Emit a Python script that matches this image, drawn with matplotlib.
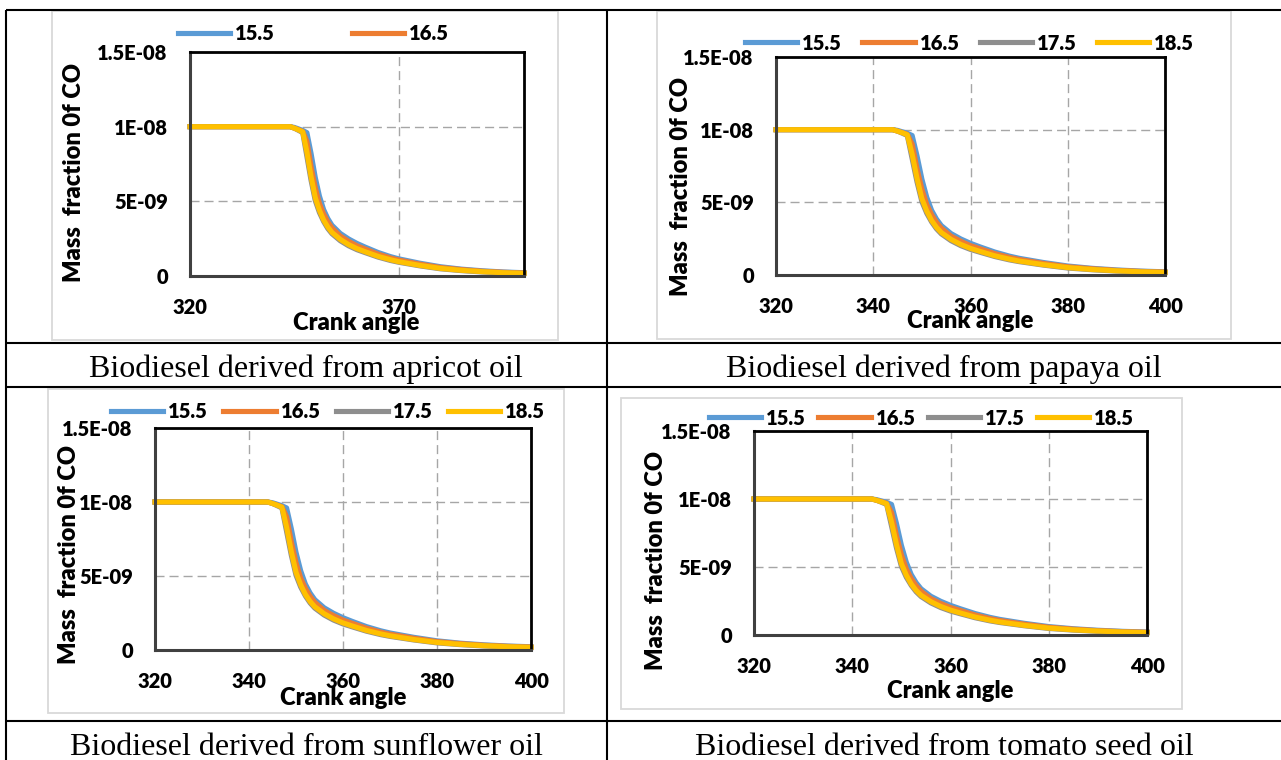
import matplotlib
matplotlib.use('Agg')
import matplotlib.pyplot as plt
from matplotlib.patches import Rectangle

# Mass fraction of CO against crank angle, four compression ratios,
# biodiesel from four oils (values in units of 1e-9)
crank_angle = [320, 330, 340, 344, 345, 346, 347, 348, 349, 350, 351, 352, 353, 354,
               356, 358, 360, 362, 365, 368, 370, 375, 380, 385, 390, 395, 400]
co_155 = [10.0, 10.0, 10.0, 10.0, 9.95, 9.85, 9.75, 9.6, 8.2, 6.6, 5.35, 4.45, 3.85, 3.4,
          2.85, 2.48, 2.18, 1.93, 1.58, 1.30, 1.15, 0.86, 0.62, 0.46, 0.35, 0.27, 0.22]
co_165 = [10.0, 10.0, 10.0, 10.0, 9.9, 9.8, 9.68, 9.0, 7.3, 5.9, 4.85, 4.15, 3.62, 3.22,
          2.67, 2.32, 2.02, 1.80, 1.47, 1.21, 1.07, 0.80, 0.57, 0.43, 0.32, 0.25, 0.20]
co_175 = [10.0, 10.0, 10.0, 10.0, 9.9, 9.75, 9.6, 8.0, 6.4, 5.05, 4.25, 3.65, 3.18, 2.83,
          2.36, 2.02, 1.76, 1.56, 1.27, 1.04, 0.92, 0.68, 0.48, 0.36, 0.27, 0.21, 0.16]
co_185 = [10.0, 10.0, 10.0, 10.0, 9.9, 9.78, 9.65, 8.3, 6.65, 5.25, 4.4, 3.75, 3.28, 2.92,
          2.45, 2.10, 1.83, 1.62, 1.32, 1.09, 0.96, 0.71, 0.51, 0.38, 0.29, 0.22, 0.18]

series_labels = ['15.5', '16.5', '17.5', '18.5']
series_values = [co_155, co_165, co_175, co_185]
series_colors = ['#5B9BD5', '#ED7D31', '#8E8E8E', '#FFC000']

captions = ['Biodiesel derived from apricot oil', 'Biodiesel derived from papaya oil',
            'Biodiesel derived from sunflower oil', 'Biodiesel derived from tomato seed oil']
y_ticks = [0, 5e-9, 1e-8, 1.5e-8]
y_tick_labels = ['0', '5E-09', '1E-08', '1.5E-08']
x_ticks_coarse = [320, 370]
x_ticks_fine = [320, 340, 360, 380, 400]

W, H = 1281, 760


def rect(l, t, r, b):
    # pixel box (top-left origin) -> figure fraction
    return [l / W, 1 - b / H, (r - l) / W, (b - t) / H]


def fxy(x, y):
    return (x / W, 1 - y / H)


# layout of each chart in pixels
panels = [
    dict(frame=(52, 11, 558, 340), axes=(190, 52, 524, 276), xticks=x_ticks_coarse,
         n_leg=2, leg=(178, 34), colsp=3.8, xlab=(356, 323), ylab=(74, 172)),
    dict(frame=(657, 11, 1231, 339), axes=(776, 57, 1165, 275), xticks=x_ticks_fine,
         n_leg=4, leg=(745, 43), colsp=1.0, xlab=(970, 321), ylab=(681, 187)),
    dict(frame=(48, 389, 564, 713), axes=(155, 428, 531, 650), xticks=x_ticks_fine,
         n_leg=4, leg=(111, 412), colsp=0.75, xlab=(343, 698), ylab=(69, 554)),
    dict(frame=(621, 398, 1182, 709), axes=(754, 431, 1147, 635), xticks=x_ticks_fine,
         n_leg=4, leg=(709, 418), colsp=0.6, xlab=(950, 691), ylab=(656, 561)),
]
caption_pos = [(306, 377), (944, 377), (306, 755), (944, 755)]

plt.rcParams['font.family'] = ['Lato', 'DejaVu Sans']

fig = plt.figure(figsize=(W / 100, H / 100), dpi=100)
fig.patch.set_facecolor('white')

# background: table grid, chart frames and captions
bg = fig.add_axes([0, 0, 1, 1], zorder=0)
bg.set_xlim(0, W)
bg.set_ylim(H, 0)
bg.axis('off')
table_kw = dict(color='black', lw=1.5, solid_capstyle='butt')
for y in [10, 343, 387, 721]:
    bg.plot([6, W], [y, y], **table_kw)
for x in [6, 607]:
    bg.plot([x, x], [10, H], **table_kw)

for p, cap, cpos in zip(panels, captions, caption_pos):
    l, t, r, b = p['frame']
    bg.add_patch(Rectangle((l, t), r - l, b - t, fill=False, ec='#D9D9D9', lw=1.3))
    bg.text(cpos[0], cpos[1], cap, family='Liberation Serif', fontsize=23,
            ha='center', va='baseline')

tick_font = dict(fontsize=14.5, fontweight='heavy')
label_font = dict(fontsize=17, fontweight='heavy')
legend_prop = {'family': ['Lato', 'DejaVu Sans'], 'weight': 'heavy', 'size': 14.5}

for p in panels:
    ax = fig.add_axes(rect(*p['axes']), zorder=1)
    ax.set_facecolor('white')
    handles = []
    for vals, lab, col in zip(series_values, series_labels, series_colors):
        line, = ax.plot(crank_angle, [v * 1e-9 for v in vals], color=col, lw=3.7,
                        label=lab, clip_on=False, solid_joinstyle='round')
        handles.append(line)

    ax.set_xlim(320, 400)
    ax.set_ylim(0, 1.5e-8)
    ax.set_xticks(p['xticks'])
    ax.set_xticklabels([str(v) for v in p['xticks']], **tick_font)
    ax.set_yticks(y_ticks)
    ax.set_yticklabels(y_tick_labels, **tick_font)
    ax.tick_params(length=0)
    ax.tick_params(axis='y', pad=16)
    ax.tick_params(axis='x', pad=16)

    ax.set_axisbelow(True)
    ax.grid(True, color='#A6A6A6', lw=1.0, linestyle=(0, (6.5, 3.6)))
    for side in ['top', 'right']:
        ax.spines[side].set_color('black')
        ax.spines[side].set_linewidth(2.0)
    for side in ['left', 'bottom']:
        ax.spines[side].set_color('#404040')
        ax.spines[side].set_linewidth(2.2)

    ax.set_xlabel('Crank angle', **label_font)
    ax.xaxis.label.set_verticalalignment('center')
    ax.xaxis.set_label_coords(*fxy(*p['xlab']), transform=fig.transFigure)
    ax.set_ylabel('Mass  fraction 0f CO', **label_font)
    ax.yaxis.label.set_verticalalignment('center')
    ax.yaxis.label.set_horizontalalignment('center')
    ax.yaxis.set_label_coords(*fxy(*p['ylab']), transform=fig.transFigure)

    n = p['n_leg']
    ax.legend(handles[:n], series_labels[:n], loc='center left',
              bbox_to_anchor=fxy(*p['leg']), bbox_transform=fig.transFigure,
              ncol=n, frameon=False, borderpad=0, borderaxespad=0,
              handlelength=2.6, handletextpad=0.25, columnspacing=p['colsp'],
              prop=legend_prop)

fig.savefig('out.png', dpi=100, facecolor='white')
